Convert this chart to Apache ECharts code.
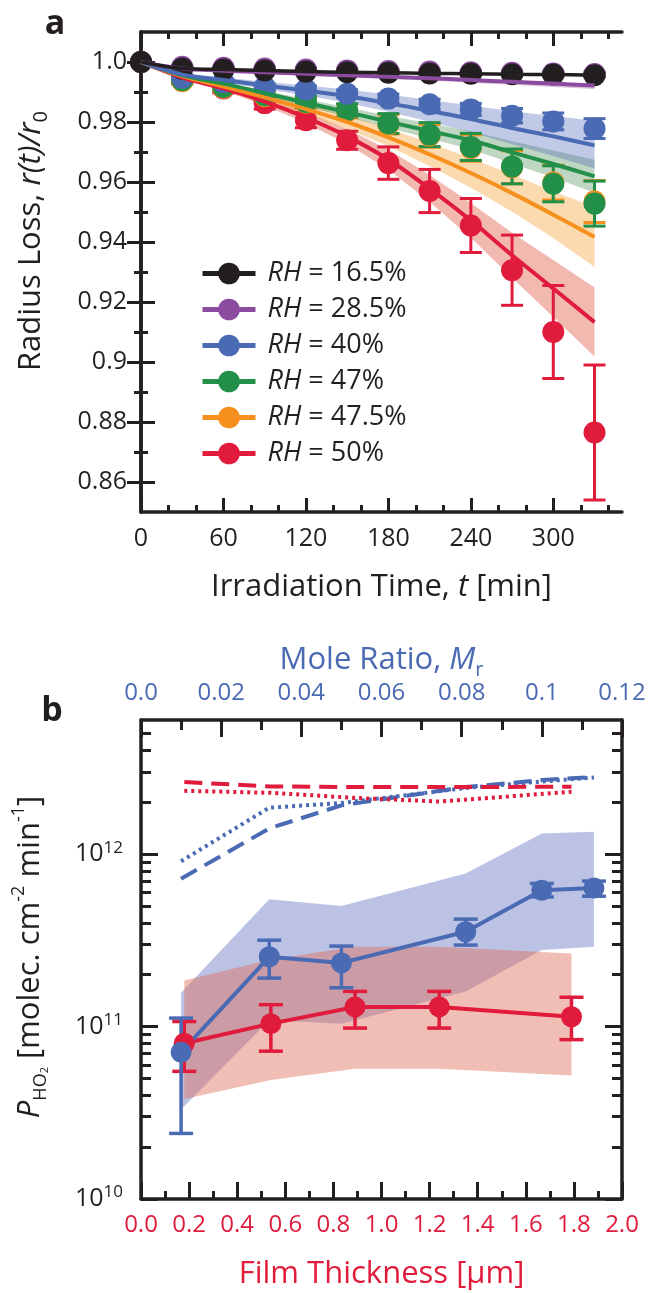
<!DOCTYPE html>
<html>
<head>
<meta charset="utf-8">
<script src="https://cdn.jsdelivr.net/npm/echarts@6/dist/echarts.min.js"></script>
<style>
  html, body { margin: 0; padding: 0; background: #fff; }
  #chart { width: 651px; height: 1293px; }
</style>
</head>
<body>
<div id="chart"></div>
<script>
// ================* PANEL A : radius loss *

const times = [0, 30, 60, 90, 120, 150, 180, 210, 240, 270, 300, 330];

// RH = 16.5 %
const rh165Dots = [1.0, 0.9978, 0.9975, 0.9972, 0.9968, 0.9966, 0.9964, 0.9962, 0.9961, 0.9959, 0.9958, 0.9956];
const rh165Err = [0, 0.0004, 0.0004, 0.0005, 0.0005, 0.0005, 0.0005, 0.0005, 0.0006, 0.0006, 0.0006, 0.0006];

// RH = 28.5 %
const rh285Dots = [1.0, 0.9984, 0.9981, 0.9978, 0.9975, 0.9972, 0.997, 0.9968, 0.9966, 0.9964, 0.9962, 0.996];
const rh285Err = [0, 0.0004, 0.0004, 0.0005, 0.0005, 0.0005, 0.0005, 0.0006, 0.0006, 0.0006, 0.0007, 0.0007];
const rh285Fit = [1.0, 0.9978, 0.9971, 0.9966, 0.9961, 0.9956, 0.9951, 0.9946, 0.994, 0.9934, 0.9928, 0.9922];
const rh285Lo = [1.0, 0.9976, 0.9968, 0.9962, 0.9956, 0.995, 0.9944, 0.9938, 0.9931, 0.9924, 0.9917, 0.991];
const rh285Hi = [1.0, 0.998, 0.9973, 0.9968, 0.9963, 0.9958, 0.9953, 0.9948, 0.9943, 0.9937, 0.9931, 0.9925];

// RH = 40 %
const rh40Dots = [1.0, 0.9948, 0.9933, 0.9917, 0.9908, 0.9894, 0.9878, 0.9859, 0.9842, 0.9821, 0.9802, 0.9778];
const rh40Err = [0, 0.0008, 0.0009, 0.001, 0.0012, 0.0013, 0.0015, 0.0017, 0.002, 0.0024, 0.0028, 0.0033];
const rh40Fit = [1.0, 0.9958, 0.994, 0.9922, 0.9905, 0.9886, 0.9863, 0.9837, 0.981, 0.978, 0.9752, 0.9722];
const rh40Lo = [1.0, 0.9954, 0.9932, 0.991, 0.9888, 0.9864, 0.9834, 0.9801, 0.9766, 0.9726, 0.9687, 0.9645];
const rh40Hi = [1.0, 0.9962, 0.9948, 0.9934, 0.9922, 0.9908, 0.9892, 0.9873, 0.9855, 0.9836, 0.982, 0.9804];

// RH = 47 %
const rh47Dots = [1.0, 0.9939, 0.9917, 0.9889, 0.9867, 0.9839, 0.9795, 0.9758, 0.9717, 0.9652, 0.9594, 0.9528];
const rh47Err = [0, 0.001, 0.0012, 0.0015, 0.0018, 0.0022, 0.0033, 0.004, 0.0045, 0.0058, 0.006, 0.0075];
const rh47Fit = [1.0, 0.9956, 0.9928, 0.9896, 0.9864, 0.9833, 0.9801, 0.977, 0.9739, 0.9699, 0.966, 0.9619];
const rh47Lo = [1.0, 0.9953, 0.9922, 0.9887, 0.9852, 0.9817, 0.9781, 0.9745, 0.9709, 0.9662, 0.9615, 0.9564];
const rh47Hi = [1.0, 0.9959, 0.9934, 0.9905, 0.9876, 0.9849, 0.9821, 0.9795, 0.9769, 0.9736, 0.9705, 0.9674];

// RH = 47.5 %
const rh475Dots = [1.0, 0.9936, 0.9914, 0.9886, 0.9864, 0.9836, 0.9792, 0.9754, 0.9713, 0.9649, 0.9598, 0.9535];
const rh475Err = [0, 0.001, 0.0012, 0.0015, 0.0018, 0.0022, 0.0032, 0.0038, 0.0044, 0.0055, 0.0058, 0.007];
const rh475Fit = [1.0, 0.9953, 0.9918, 0.9882, 0.9843, 0.98, 0.9749, 0.9692, 0.963, 0.9563, 0.9491, 0.9417];
const rh475Lo = [1.0, 0.9949, 0.991, 0.987, 0.9826, 0.9777, 0.9719, 0.9653, 0.9581, 0.9501, 0.9413, 0.9317];
const rh475Hi = [1.0, 0.9957, 0.9926, 0.9894, 0.986, 0.9823, 0.9779, 0.9731, 0.9679, 0.9625, 0.9569, 0.9517];

// RH = 50 %
const rh50Dots = [1.0, 0.9939, 0.9912, 0.9863, 0.9806, 0.9739, 0.9663, 0.957, 0.9455, 0.9306, 0.910, 0.8765];
const rh50Err = [0, 0.001, 0.0015, 0.002, 0.0025, 0.003, 0.0054, 0.0072, 0.009, 0.0117, 0.0155, 0.0225];
const rh50Fit = [1.0, 0.9948, 0.9912, 0.9868, 0.9815, 0.9752, 0.9675, 0.9578, 0.9472, 0.9356, 0.9245, 0.9133];
const rh50Lo = [1.0, 0.9944, 0.9904, 0.9855, 0.9797, 0.9727, 0.9642, 0.9533, 0.9414, 0.9281, 0.915, 0.9018];
const rh50Hi = [1.0, 0.9952, 0.992, 0.9881, 0.9833, 0.9777, 0.9708, 0.9623, 0.953, 0.9431, 0.934, 0.9248];

// ticks panel a
const tMajor = [0, 60, 120, 180, 240, 300];
const tMinor = [20, 40, 80, 100, 140, 160, 200, 220, 260, 280, 320, 340];
const rMajor = [0.86, 0.88, 0.9, 0.92, 0.94, 0.96, 0.98, 1.0];
const rMinor = [0.87, 0.89, 0.91, 0.93, 0.95, 0.97, 0.99];

// ================* PANEL B : HO2 production *

const filmX = [0.18, 0.54, 0.89, 1.24, 1.79];
const redP = [8.0e10, 1.04e11, 1.3e11, 1.3e11, 1.14e11];
const redPLo = [5.5e10, 7.2e10, 9.8e10, 9.8e10, 8.4e10];
const redPHi = [1.07e11, 1.34e11, 1.6e11, 1.6e11, 1.48e11];
const redBandLo = [3.8e10, 4.9e10, 5.7e10, 5.7e10, 5.2e10];
const redBandHi = [1.85e11, 2.45e11, 2.9e11, 2.9e11, 2.65e11];
const redDashed = [2.62e12, 2.47e12, 2.45e12, 2.45e12, 2.46e12];
const redDotted = [2.33e12, 2.27e12, 2.12e12, 2.02e12, 2.3e12];

const moleX = [0.01, 0.032, 0.05, 0.081, 0.1, 0.113];
const blueP = [7.1e10, 2.54e11, 2.34e11, 3.55e11, 6.18e11, 6.36e11];
const bluePLo = [2.4e10, 1.91e11, 1.68e11, 2.97e11, 5.65e11, 5.7e11];
const bluePHi = [1.12e11, 3.17e11, 2.93e11, 4.2e11, 6.76e11, 6.98e11];
const blueBandLo = [3.3e10, 1.09e11, 1.04e11, 1.6e11, 2.78e11, 2.9e11];
const blueBandHi = [1.57e11, 5.48e11, 5.0e11, 7.73e11, 1.32e12, 1.35e12];
const blueDashed = [7.2e11, 1.41e12, 1.92e12, 2.45e12, 2.69e12, 2.8e12];
const blueDotted = [9.1e11, 1.86e12, 1.98e12, 2.42e12, 2.64e12, 2.78e12];

// ticks panel b
const pMajor = [1e10, 1e11, 1e12];
const pMinor = [2e10, 3e10, 4e10, 5e10, 6e10, 7e10, 8e10, 9e10,
                2e11, 3e11, 4e11, 5e11, 6e11, 7e11, 8e11, 9e11,
                2e12, 3e12, 4e12, 5e12];

const FONT = 'Open Sans';
const INK = '#231f20';
const C_BLACK = '#231f20';
const C_PURPLE = '#8b4c9f';
const C_BLUE = '#4a6ab4';
const C_GREEN = '#23904a';
const C_ORANGE = '#f7901e';
const C_RED = '#e01b3c';

function zip(xs, ys) {
    return xs.map(function (x, i) { return [x, ys[i]]; });
}

// shaded model band as one polygon
function band(xIdx, yIdx, xs, lo, hi, fill) {
    return {
        type: 'custom', xAxisIndex: xIdx, yAxisIndex: yIdx, silent: true,
        data: [[xs[0], lo[0]]],
        renderItem: function (params, api) {
            let pts = [];
            for (let i = 0; i < xs.length; i++) pts.push(api.coord([xs[i], hi[i]]));
            for (let i = xs.length - 1; i >= 0; i--) pts.push(api.coord([xs[i], lo[i]]));
            return { type: 'polygon', shape: { points: pts }, style: { fill: fill } };
        }
    };
}

function errorBars(xIdx, yIdx, xs, lo, hi, color, capW, lw) {
    return {
        type: 'custom', xAxisIndex: xIdx, yAxisIndex: yIdx, silent: true,
        data: xs.map(function (x, i) { return [x, lo[i], hi[i]]; }),
        renderItem: function (params, api) {
            let top = api.coord([api.value(0), api.value(2)]);
            let bot = api.coord([api.value(0), api.value(1)]);
            if (Math.abs(top[1] - bot[1]) < 0.5) return;
            let st = { stroke: color, lineWidth: lw };
            return {
                type: 'group',
                children: [
                    { type: 'line', shape: { x1: top[0], y1: top[1], x2: bot[0], y2: bot[1] }, style: st },
                    { type: 'line', shape: { x1: top[0] - capW / 2, y1: top[1], x2: top[0] + capW / 2, y2: top[1] }, style: st },
                    { type: 'line', shape: { x1: bot[0] - capW / 2, y1: bot[1], x2: bot[0] + capW / 2, y2: bot[1] }, style: st }
                ]
            };
        }
    };
}

function fitLine(name, ys, color, width) {
    return {
        name: name, type: 'line', xAxisIndex: 0, yAxisIndex: 0,
        data: zip(times, ys), smooth: 0.3, symbol: 'circle', symbolSize: 22, showSymbol: false,
        lineStyle: { color: color, width: width }, itemStyle: { color: color }, silent: true
    };
}

function dots(ys, color) {
    return {
        type: 'scatter', xAxisIndex: 0, yAxisIndex: 0, data: zip(times, ys),
        symbolSize: 22, itemStyle: { color: color, opacity: 1 }, silent: true
    };
}

function errA(ys, err, color) {
    return errorBars(0, 0, times,
        ys.map(function (v, i) { return v - err[i]; }),
        ys.map(function (v, i) { return v + err[i]; }), color, 22, 3);
}

const lineAxis = { show: true, lineStyle: { color: INK, width: 3.5 } };
const tickStyle = { color: INK, width: 3 };

function sideAxis(grid, pos, type, min, max, ticks, len, extra) {
    return Object.assign({
        gridIndex: grid, type: type, position: pos, min: min, max: max,
        axisLine: { show: false },
        axisTick: { show: true, inside: true, length: len, customValues: ticks, lineStyle: tickStyle },
        axisLabel: { show: false },
        splitLine: { show: false }
    }, extra || {});
}

const labelA = { fontSize: 25, fontFamily: FONT, color: INK };
const nameRich = function (color, size) {
    return {
        n: { fontSize: size, fontFamily: FONT, color: color, lineHeight: 40 },
        i: { fontSize: size, fontFamily: FONT, color: color, fontStyle: 'italic', lineHeight: 40 },
        s: { fontSize: 20, fontFamily: FONT, color: color, lineHeight: 20, verticalAlign: 'bottom' }
    };
};

var chart = echarts.init(document.getElementById('chart'));

option = {
    animation: false,
    backgroundColor: '#fff',
    grid: [
        { left: 141, right: 29, top: 32, height: 480 },
        { left: 141, right: 29, top: 720, height: 479 }
    ],
    legend: {
        data: ['RH = 16.5%', 'RH = 28.5%', 'RH = 40%', 'RH = 47%', 'RH = 47.5%', 'RH = 50%'],
        orient: 'vertical', left: 195, top: 255, itemWidth: 53, itemHeight: 27, itemGap: 9,
        selectedMode: false,
        lineStyle: { width: 5 },
        formatter: function (name) { return '{i|RH} = ' + name.slice(5); },
        textStyle: {
            fontSize: 27, fontFamily: FONT, color: INK, lineHeight: 27, padding: [0, 0, 0, 7],
            rich: { i: { fontSize: 27, fontFamily: FONT, color: INK, fontStyle: 'italic', lineHeight: 27 } }
        }
    },
    xAxis: [
        sideAxis(0, 'bottom', 'value', 0, 350, tMajor, 14, {
            axisLine: lineAxis,
            axisLabel: Object.assign({ show: true, customValues: tMajor, margin: 14 }, labelA),
            name: '{n|Irradiation Time, }{i|t}{n| [min]}',
            nameLocation: 'middle', nameGap: 55,
            nameTextStyle: { fontSize: 31, fontFamily: FONT, color: INK, rich: nameRich(INK, 31) }
        }),
        sideAxis(0, 'bottom', 'value', 0, 350, tMinor, 7),
        sideAxis(0, 'top', 'value', 0, 350, tMajor, 14, { axisLine: lineAxis }),
        sideAxis(0, 'top', 'value', 0, 350, tMinor, 7),
        {
            gridIndex: 1, type: 'value', position: 'bottom', min: 0, max: 2, interval: 0.2,
            axisLine: lineAxis,
            axisTick: { show: true, inside: true, length: 17, lineStyle: tickStyle },
            minorTick: { show: true, splitNumber: 2, length: 8, lineStyle: tickStyle },
            axisLabel: {
                fontSize: 24, fontFamily: FONT, color: C_RED, margin: 14,
                formatter: function (v) { return v.toFixed(1); }
            },
            splitLine: { show: false },
            name: 'Film Thickness [µm]', nameLocation: 'middle', nameGap: 60,
            nameTextStyle: { fontSize: 31, fontFamily: FONT, color: C_RED }
        },
        {
            gridIndex: 1, type: 'value', position: 'top', min: 0, max: 0.12, interval: 0.02,
            axisLine: lineAxis,
            axisTick: { show: true, inside: true, length: 17, lineStyle: tickStyle },
            minorTick: { show: true, splitNumber: 2, length: 10, lineStyle: tickStyle },
            axisLabel: {
                fontSize: 24, fontFamily: FONT, color: C_BLUE, margin: 15,
                formatter: function (v) { return v === 0 ? '0.0' : String(+v.toFixed(2)); }
            },
            splitLine: { show: false },
            name: '{n|Mole Ratio, }{i|M}{s|r}', nameLocation: 'middle', nameGap: 40,
            nameTextStyle: { fontSize: 31, fontFamily: FONT, color: C_BLUE, rich: nameRich(C_BLUE, 31) }
        }
    ],
    yAxis: [
        sideAxis(0, 'left', 'value', 0.85, 1.01, rMajor, 14, {
            axisLine: lineAxis,
            axisLabel: Object.assign({
                show: true, customValues: rMajor, margin: 14,
                formatter: function (v) { let s = String(+v.toFixed(2)); return s === '1' ? '1.0' : s; }
            }, labelA)
        }),
        sideAxis(0, 'left', 'value', 0.85, 1.01, rMinor, 7),
        sideAxis(0, 'right', 'value', 0.85, 1.01, rMajor, 14, { axisLine: lineAxis }),
        sideAxis(0, 'right', 'value', 0.85, 1.01, rMinor, 7),
        sideAxis(1, 'left', 'log', 1e10, 6e12, pMajor, 17, {
            logBase: 10,
            axisLine: lineAxis,
            axisLabel: {
                show: true, customValues: pMajor, margin: 18, fontSize: 25, fontFamily: FONT,
                color: INK, lineHeight: 30,
                formatter: function (v) { return '10{sup|' + Math.round(Math.log10(v)) + '}'; },
                rich: { sup: { fontSize: 17, fontFamily: FONT, color: INK, lineHeight: 16, verticalAlign: 'top' } }
            }
        }),
        sideAxis(1, 'left', 'log', 1e10, 6e12, pMinor, 10, { logBase: 10 }),
        sideAxis(1, 'right', 'log', 1e10, 6e12, pMajor, 17, { logBase: 10, axisLine: lineAxis }),
        sideAxis(1, 'right', 'log', 1e10, 6e12, pMinor, 10, { logBase: 10 })
    ],
    graphic: [
        { type: 'text', x: 55, y: 24, style: { text: 'a', fontSize: 34, fontWeight: 'bold', fontFamily: FONT, fill: INK, align: 'center', verticalAlign: 'middle' } },
        { type: 'text', x: 52, y: 711, style: { text: 'b', fontSize: 34, fontWeight: 'bold', fontFamily: FONT, fill: INK, align: 'center', verticalAlign: 'middle' } },
        {
            type: 'text', x: 31, y: 241, rotation: Math.PI / 2,
            style: {
                text: '{n|Radius Loss, }{i|r(t)/r}{s|0}', align: 'center', verticalAlign: 'middle',
                rich: {
                    n: { fontSize: 31, fontFamily: FONT, fill: INK, lineHeight: 40 },
                    i: { fontSize: 31, fontFamily: FONT, fill: INK, fontStyle: 'italic', lineHeight: 40 },
                    s: { fontSize: 20, fontFamily: FONT, fill: INK, lineHeight: 20, verticalAlign: 'bottom' }
                }
            }
        },
        {
            type: 'text', x: 30, y: 957, rotation: Math.PI / 2,
            style: {
                text: '{i|P}{s|HO}{ss|2}{n| [molec. cm}{p|-2}{n| min}{p|-1}{n|]}', align: 'center', verticalAlign: 'middle',
                rich: {
                    n: { fontSize: 31, fontFamily: FONT, fill: INK, lineHeight: 40 },
                    i: { fontSize: 31, fontFamily: FONT, fill: INK, fontStyle: 'italic', lineHeight: 40 },
                    s: { fontSize: 18, fontFamily: FONT, fill: INK, lineHeight: 18, verticalAlign: 'bottom' },
                    ss: { fontSize: 11, fontFamily: FONT, fill: INK, lineHeight: 12, verticalAlign: 'bottom' },
                    p: { fontSize: 18, fontFamily: FONT, fill: INK, lineHeight: 18, verticalAlign: 'top' }
                }
            }
        }
    ],
    series: [
        // ---- panel a bands
        band(0, 0, times, rh50Lo, rh50Hi, 'rgba(222,80,60,0.40)'),
        band(0, 0, times, rh475Lo, rh475Hi, 'rgba(247,148,29,0.35)'),
        band(0, 0, times, rh47Lo, rh47Hi, 'rgba(60,130,70,0.33)'),
        band(0, 0, times, rh40Lo, rh40Hi, 'rgba(74,100,181,0.35)'),
        band(0, 0, times, rh285Lo, rh285Hi, 'rgba(139,76,159,0.35)'),
        // ---- panel a model lines (legend entries)
        fitLine('RH = 50%', rh50Fit, C_RED, 4),
        fitLine('RH = 47.5%', rh475Fit, C_ORANGE, 4),
        fitLine('RH = 47%', rh47Fit, C_GREEN, 4),
        fitLine('RH = 40%', rh40Fit, C_BLUE, 4),
        fitLine('RH = 28.5%', rh285Fit, C_PURPLE, 4),
        fitLine('RH = 16.5%', rh165Dots, C_BLACK, 3.5),
        // ---- panel a measurements
        errA(rh50Dots, rh50Err, C_RED), dots(rh50Dots, C_RED),
        errA(rh475Dots, rh475Err, C_ORANGE), dots(rh475Dots, C_ORANGE),
        errA(rh47Dots, rh47Err, C_GREEN), dots(rh47Dots, C_GREEN),
        errA(rh40Dots, rh40Err, C_BLUE), dots(rh40Dots, C_BLUE),
        errA(rh285Dots, rh285Err, C_PURPLE), dots(rh285Dots, C_PURPLE),
        errA(rh165Dots, rh165Err, C_BLACK), dots(rh165Dots, C_BLACK),

        // ---- panel b
        band(5, 4, moleX, blueBandLo, blueBandHi, 'rgba(80,95,185,0.38)'),
        band(4, 4, filmX, redBandLo, redBandHi, 'rgba(225,110,90,0.45)'),
        {
            type: 'line', xAxisIndex: 5, yAxisIndex: 4, data: zip(moleX, blueDashed), showSymbol: false, silent: true,
            lineStyle: { color: C_BLUE, width: 4, type: [18, 9] }
        },
        {
            type: 'line', xAxisIndex: 5, yAxisIndex: 4, data: zip(moleX, blueDotted), showSymbol: false, silent: true,
            lineStyle: { color: C_BLUE, width: 4, type: [3, 4] }
        },
        {
            type: 'line', xAxisIndex: 4, yAxisIndex: 4, data: zip(filmX, redDashed), showSymbol: false, silent: true,
            lineStyle: { color: C_RED, width: 4, type: [18, 9] }
        },
        {
            type: 'line', xAxisIndex: 4, yAxisIndex: 4, data: zip(filmX, redDotted), showSymbol: false, silent: true,
            lineStyle: { color: C_RED, width: 4, type: [3, 4] }
        },
        errorBars(4, 4, filmX, redPLo, redPHi, C_RED, 24, 3.5),
        {
            type: 'line', xAxisIndex: 4, yAxisIndex: 4, data: zip(filmX, redP), symbol: 'circle', symbolSize: 21,
            lineStyle: { color: C_RED, width: 4 }, itemStyle: { color: C_RED }, silent: true
        },
        errorBars(5, 4, moleX, bluePLo, bluePHi, C_BLUE, 24, 3.5),
        {
            type: 'line', xAxisIndex: 5, yAxisIndex: 4, data: zip(moleX, blueP), symbol: 'circle', symbolSize: 21,
            lineStyle: { color: C_BLUE, width: 4 }, itemStyle: { color: C_BLUE }, silent: true
        }
    ]
};
chart.setOption(option);
</script>
</body>
</html>
